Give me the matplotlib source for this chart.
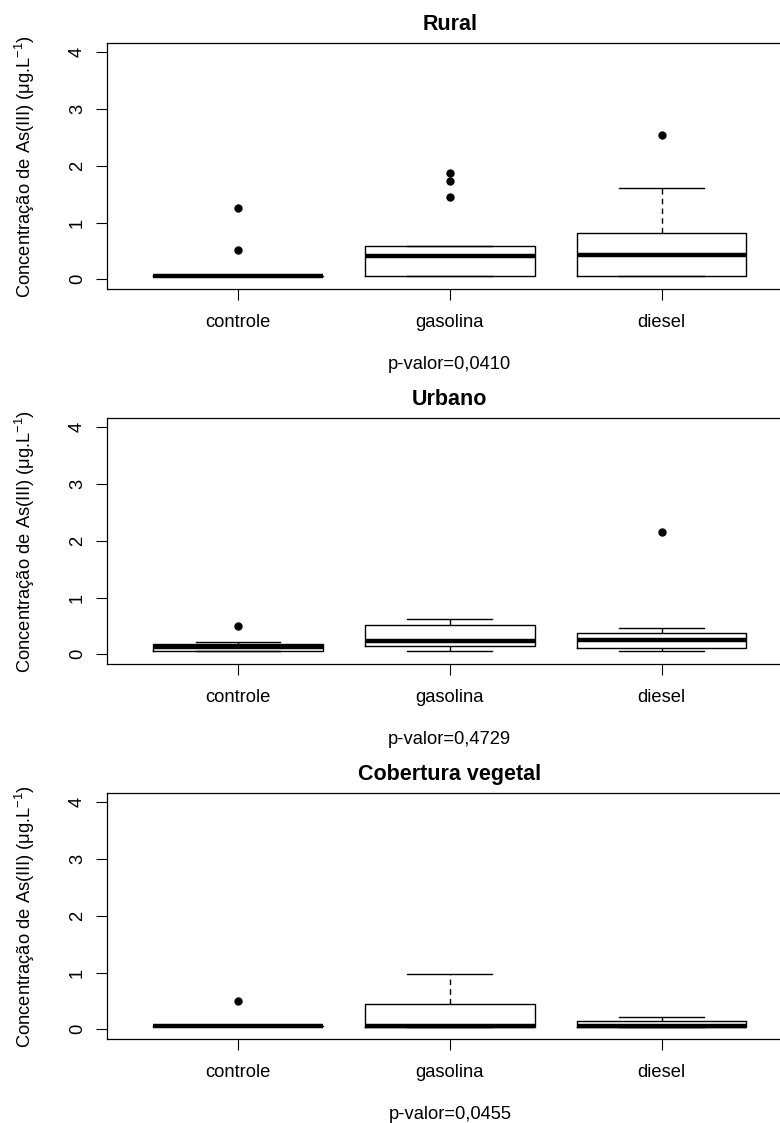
import matplotlib
matplotlib.use('Agg')
import matplotlib.pyplot as plt

plt.rcParams['font.family'] = ['Liberation Sans', 'DejaVu Sans']
plt.rcParams['mathtext.fontset'] = 'custom'
plt.rcParams['mathtext.rm'] = 'Liberation Sans'
plt.rcParams['mathtext.it'] = 'Liberation Sans:italic'
plt.rcParams['mathtext.bf'] = 'Liberation Sans:bold'

# ---------------- data ----------------
categories = ['controle', 'gasolina', 'diesel']
panel_titles = ['Rural', 'Urbano', 'Cobertura vegetal']
p_values = ['p-valor=0,0410', 'p-valor=0,4729', 'p-valor=0,0455']
y_ticks = [0, 1, 2, 3, 4]
y_label = 'Concentração de As(III) (μg.L$^{-1}$)'

# Rural
rural_whislo = [0.05, 0.05, 0.05]
rural_q1 = [0.05, 0.05, 0.05]
rural_med = [0.05, 0.41, 0.42]
rural_q3 = [0.05, 0.58, 0.82]
rural_whishi = [0.05, 0.58, 1.61]
rural_fliers = [[1.25, 0.52], [1.87, 1.74, 1.45], [2.54]]

# Urbano
urbano_whislo = [0.05, 0.05, 0.05]
urbano_q1 = [0.05, 0.15, 0.11]
urbano_med = [0.13, 0.24, 0.25]
urbano_q3 = [0.19, 0.52, 0.38]
urbano_whishi = [0.22, 0.62, 0.46]
urbano_fliers = [[0.49], [], [2.15]]

# Cobertura vegetal
cobertura_whislo = [0.05, 0.04, 0.04]
cobertura_q1 = [0.05, 0.04, 0.04]
cobertura_med = [0.05, 0.05, 0.06]
cobertura_q3 = [0.05, 0.45, 0.14]
cobertura_whishi = [0.05, 0.97, 0.22]
cobertura_fliers = [[0.50], [], []]

panels = [
    (rural_whislo, rural_q1, rural_med, rural_q3, rural_whishi, rural_fliers),
    (urbano_whislo, urbano_q1, urbano_med, urbano_q3, urbano_whishi, urbano_fliers),
    (cobertura_whislo, cobertura_q1, cobertura_med, cobertura_q3, cobertura_whishi, cobertura_fliers),
]

# ---------------- figure ----------------
W, H = 780, 1123
fig = plt.figure(figsize=(W / 100, H / 100), dpi=100)

left_px, right_px = 106.7, 793.0
tops_px = [43.3, 418.3, 793.3]
height_px = 245.4
fs = 13.2

for (wl, q1, med, q3, wh, fl), title, pv, top in zip(panels, panel_titles, p_values, tops_px):
    ax = fig.add_axes([left_px / W, 1 - (top + height_px) / H,
                       (right_px - left_px) / W, height_px / H])
    stats = []
    for i, lab in enumerate(categories):
        stats.append(dict(label=lab, whislo=wl[i], q1=q1[i], med=med[i],
                          q3=q3[i], whishi=wh[i], fliers=fl[i]))
    ax.bxp(stats, positions=[1, 2, 3], widths=0.8, capwidths=0.4,
           showfliers=True,
           boxprops=dict(color='black', lw=1.0),
           medianprops=dict(color='black', lw=3.2, solid_capstyle='butt'),
           whiskerprops=dict(color='black', lw=1.0, linestyle=(0, (4, 3))),
           capprops=dict(color='black', lw=1.0),
           flierprops=dict(marker='o', markerfacecolor='black',
                           markeredgecolor='black', markersize=5,
                           linestyle='none'))
    ax.set_xlim(0.38, 3.62)
    ax.set_ylim(-0.166, 4.159)
    ax.set_yticks(y_ticks)
    ax.set_yticklabels([str(t) for t in y_ticks])
    ax.set_xticks([1, 2, 3])
    ax.set_xticklabels(categories)
    ax.tick_params(axis='both', direction='out', length=7.9, width=0.8,
                   labelsize=fs, colors='black')
    ax.tick_params(axis='x', pad=10.5)
    ax.tick_params(axis='y', pad=7, labelrotation=90)
    for lbl in ax.get_yticklabels():
        lbl.set_verticalalignment('center')
    for s in ax.spines.values():
        s.set_linewidth(0.9)
        s.set_color('black')
    ax.set_ylabel(y_label, fontsize=fs)
    ax.yaxis.set_label_coords((37 - left_px) / (right_px - left_px), 0.5)
    ax.set_title(title, fontsize=15.5, fontweight='bold', pad=9.4)
    ax.annotate(pv, xy=(0.5, 0), xycoords='axes fraction',
                xytext=(0, -80), textcoords='offset pixels',
                ha='center', va='baseline', fontsize=fs)

fig.savefig('out.png', dpi=100)
